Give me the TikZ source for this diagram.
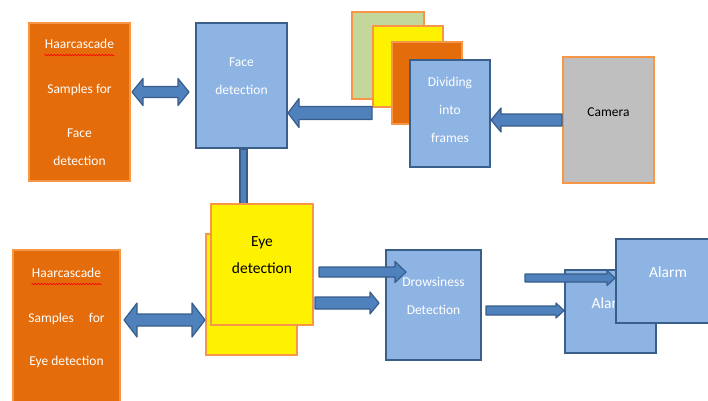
\documentclass[tikz,border=0pt]{standalone}
\usepackage{fontspec}
\setmainfont{Carlito}
\usetikzlibrary{calc,decorations.pathmorphing}

\definecolor{boxorange}{HTML}{E46C0A}
\definecolor{lineorange}{HTML}{F79646}
\definecolor{boxblue}{HTML}{8EB4E3}
\definecolor{lineblue}{HTML}{3A5F8B}
\definecolor{arrowblue}{HTML}{4F81BD}
\definecolor{arrowline}{HTML}{385D8A}
\definecolor{framegreen}{HTML}{C3D69B}
\definecolor{camgrey}{HTML}{BFBFBF}

% block arrows, horizontal: tail, tip (x only), half body, half head, head length
\newcommand\fatarrow[5]{%
  \draw[fat] let \p1=(#1), \p2=(#2), \n1={sign(\x2-\x1)*#5} in
    (\x1,{\y1+#3}) -- ({\x2-(\n1)},{\y1+#3}) -- ({\x2-(\n1)},{\y1+#4}) -- (\x2,\y1)
    -- ({\x2-(\n1)},{\y1-#4}) -- ({\x2-(\n1)},{\y1-#3}) -- (\x1,{\y1-#3}) -- cycle;}
\newcommand\fatdblarrow[5]{%
  \draw[fat] let \p1=(#1), \p2=(#2), \n1={sign(\x2-\x1)*#5} in
    (\x1,\y1) -- ({\x1+(\n1)},{\y1+#4}) -- ({\x1+(\n1)},{\y1+#3})
    -- ({\x2-(\n1)},{\y1+#3}) -- ({\x2-(\n1)},{\y1+#4}) -- (\x2,\y1)
    -- ({\x2-(\n1)},{\y1-#4}) -- ({\x2-(\n1)},{\y1-#3})
    -- ({\x1+(\n1)},{\y1-#3}) -- ({\x1+(\n1)},{\y1-#4}) -- cycle;}

\begin{document}
\begin{tikzpicture}[x=1pt,y=-1pt,font=\fontsize{13.5}{28}\selectfont,
    obox/.style={draw=lineorange,line width=2pt,fill=boxorange,inner sep=0},
    bbox/.style={draw=lineblue,line width=2pt,fill=boxblue,inner sep=0},
    ybox/.style={draw=lineorange,line width=2pt,fill=yellow,inner sep=0},
    size/.style 2 args={minimum width=#1pt,minimum height=#2pt},
    txt/.style={align=center,text=white,inner sep=0},
    dtxt/.style={align=center,text=black,inner sep=0},
    big/.style={font=\fontsize{15.5}{27}\selectfont},
    fat/.style={draw=arrowline,line width=1.2pt,fill=arrowblue,line join=round},
    squiggle/.style={draw=red,line width=0.6pt,decorate,
      decoration={snake,amplitude=0.7pt,segment length=3pt}}]
  \useasboundingbox (0,0) rectangle (708,400);

  % upper row: samples, face detection, frames, camera
  \node[obox,size={101}{158}] (haarface) at (79.5,102) {};
  \node[txt] (haarfacetxt) at ($(haarface)+(0,0.5)$)
    {Haarcascade\\[17pt]Samples for\\[16pt]Face\\detection};
  \draw[squiggle] ($(haarfacetxt.north)+(-35,16)$) -- +(70,0);

  \node[bbox,size={91}{125}] (face) at (241.5,85.5) {};
  \node[txt] (facetxt) at ($(face)+(0,-9.5)$) {Face\\detection};
  \fatdblarrow{$(haarface.east)+(1,-10)$}{$(face.west)+(-6,0)$}{5.5}{13.5}{11}

  \node[draw=lineorange,line width=2pt,fill=framegreen,size={72}{87}] (frameG) at (388,55.5) {};
  \node[ybox,size={70}{81}] (frameY) at (408,66.5) {};
  \node[obox,size={70}{82}] (frameO) at (427,83) {};
  \node[bbox,size={80}{107}] (dividing) at (450,113.5) {};
  \node[txt] (dividingtxt) at ($(dividing)+(0,-3.5)$) {Dividing\\into\\frames};
  \fatarrow{$(frameY.south west)+(0,5)$}{face.east}{6.5}{14.5}{11}

  \node[draw=lineorange,line width=2pt,fill=camgrey,size={91}{126}] (camera) at (608.5,120) {};
  \node[dtxt] (cameratxt) at ($(camera)+(0,-8)$) {Camera};
  \fatarrow{camera.west}{dividing.east}{6}{12}{10}

  % lower row: eye detection, drowsiness, alarm
  \node[ybox,size={91}{121}] (eyeback) at (251.5,294.5) {};
  \draw[fat] ($(face.south)+(-1.5,0)$) rectangle ($(face.south |- eyeback.north)+(5.5,0)$);
  \node[ybox,size={102}{121}] (eye) at (262,264.5) {};
  \node[dtxt,big] (eyetxt) at ($(eye)+(0,-9)$) {Eye\\detection};

  \node[obox,size={107}{160}] (haareye) at (66.5,330) {};
  \node[txt] (haareyetxt) at ($(haareye)+(0,-12)$)
    {Haarcascade\\[17pt]Samples\hspace{15pt}for\\[15pt]Eye detection};
  \draw[squiggle] ($(haareyetxt.north)+(-35,16)$) -- +(70,0);
  \fatdblarrow{$(haareye.east)+(3,-10)$}{eyeback.west}{6}{17}{13}

  \node[bbox,size={95}{110}] (drowsy) at (433.5,305) {};
  \node[txt] (drowsytxt) at ($(drowsy)+(0,-9.5)$) {Drowsiness\\Detection};
  \fatarrow{$(eye.east)+(5,7.5)$}{$(drowsy.west)+(21,0)$}{5}{10.5}{11}
  \fatarrow{$(eye.east)+(1,38.5)$}{$(drowsy.west)+(-6,0)$}{6}{11}{9}

  \node[bbox,size={91}{83}] (alarmback) at (610.5,311.5) {};
  \node[txt,big] (alarmbacktxt) at ($(alarmback)+(0,-8.5)$) {Alarm};
  \fatarrow{$(drowsy.east)+(4,5.5)$}{alarmback.west}{4.5}{7.5}{8}
  \node[bbox,size={104}{84}] (alarm) at (668,281) {};
  \node[txt,big] (alarmtxt) at ($(alarm)+(0,-9)$) {Alarm};
  \fatarrow{$(alarmback.north west)+(-39,9)$}{alarm.west}{4}{7.5}{8}
\end{tikzpicture}
\end{document}
